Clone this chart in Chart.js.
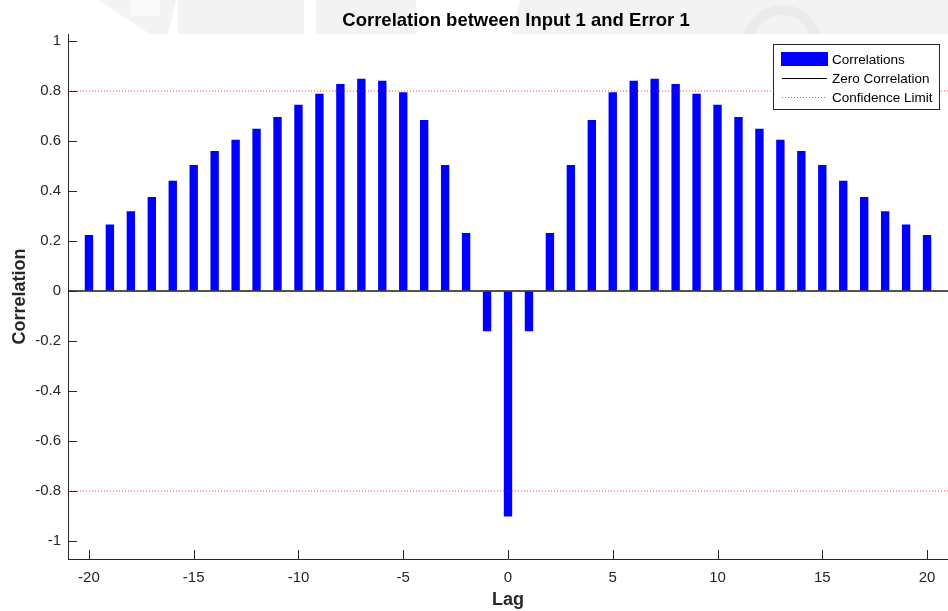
<!DOCTYPE html>
<html>
<head>
<meta charset="utf-8">
<title>Correlation between Input 1 and Error 1</title>
<script src="https://cdn.jsdelivr.net/npm/chart.js@4/dist/chart.umd.min.js"></script>
<style>
  html, body { margin: 0; padding: 0; background: #ffffff; }
  #wrap { width: 948px; height: 611px; }
  canvas { display: block; }
</style>
</head>
<body>
<div id="wrap"><canvas id="c" width="948" height="611"></canvas></div>
<script>
// Lags and cross-correlation values between input 1 and error 1
const lags = [-20, -19, -18, -17, -16, -15, -14, -13, -12, -11, -10, -9, -8, -7, -6, -5, -4, -3, -2, -1,
              0, 1, 2, 3, 4, 5, 6, 7, 8, 9, 10, 11, 12, 13, 14, 15, 16, 17, 18, 19, 20];
const correlations = [0.224, 0.266, 0.319, 0.376, 0.441, 0.504, 0.560, 0.605, 0.649, 0.696,
                      0.745, 0.789, 0.828, 0.849, 0.841, 0.795, 0.684, 0.504, 0.232, -0.161,
                      -0.902,
                      -0.161, 0.232, 0.504, 0.684, 0.795, 0.841, 0.849, 0.828, 0.789, 0.745,
                      0.696, 0.649, 0.605, 0.560, 0.504, 0.441, 0.376, 0.319, 0.266, 0.224];
const confidenceLimit = 0.8;
const lagRange = [-21, 21];
const corrRange = [-1.072, 1.028];
const xTickValues = [-20, -15, -10, -5, 0, 5, 10, 15, 20];
const yTickValues = [-1, -0.8, -0.6, -0.4, -0.2, 0, 0.2, 0.4, 0.6, 0.8, 1];

const titleText = 'Correlation between Input 1 and Error 1';
const legendLabels = ['Correlations', 'Zero Correlation', 'Confidence Limit'];

const FONT = '"Liberation Sans", Arial, Helvetica, sans-serif';
const AXIS_COLOR = '#262626';
const BAR_COLOR = '#0000ff';
const LIMIT_COLOR = 'rgba(255, 0, 0, 0.75)';

const barPoints = lags.map((l, i) => ({ x: l, y: correlations[i] }));
const zeroLine = lagRange.map(x => ({ x: x, y: 0 }));
const upperLimit = lagRange.map(x => ({ x: x, y: confidenceLimit }));
const lowerLimit = lagRange.map(x => ({ x: x, y: -confidenceLimit }));

// Faint backdrop shapes along the top strip, white figure elsewhere
const backdrop = {
  id: 'backdrop',
  beforeDraw(chart) {
    const ctx = chart.ctx;
    ctx.save();
    ctx.fillStyle = '#ffffff';
    ctx.fillRect(0, 0, chart.width, chart.height);
    ctx.beginPath();
    ctx.rect(0, 0, chart.width, 34);
    ctx.clip();
    ctx.fillStyle = '#f3f3f3';
    ctx.beginPath();
    ctx.moveTo(98, 0); ctx.lineTo(176, 0); ctx.lineTo(168, 34); ctx.lineTo(150, 34); ctx.closePath();
    ctx.fill();
    ctx.fillRect(178, 0, 126, 34);
    ctx.fillRect(316, 0, 100, 34);
    ctx.beginPath();
    ctx.moveTo(520, 0); ctx.lineTo(948, 0); ctx.lineTo(948, 34); ctx.lineTo(512, 34); ctx.closePath();
    ctx.fill();
    ctx.fillStyle = '#fafafa';
    ctx.fillRect(130, 0, 30, 16);
    ctx.beginPath();
    ctx.arc(782, 44, 34, Math.PI, 2 * Math.PI);
    ctx.lineWidth = 10;
    ctx.strokeStyle = '#ebebeb';
    ctx.stroke();
    ctx.restore();
  }
};

// Inward tick marks, title and the boxed legend
const decorations = {
  id: 'decorations',
  afterDraw(chart) {
    const ctx = chart.ctx;
    const xs = chart.scales.x, ys = chart.scales.y;
    const area = chart.chartArea;
    ctx.save();
    ctx.strokeStyle = AXIS_COLOR;
    ctx.lineWidth = 1;
    ctx.beginPath();
    yTickValues.forEach(v => {
      const py = Math.round(ys.getPixelForValue(v)) + 0.5;
      ctx.moveTo(area.left, py); ctx.lineTo(area.left + 9, py);
    });
    xTickValues.forEach(v => {
      const px = Math.round(xs.getPixelForValue(v)) + 0.5;
      ctx.moveTo(px, area.bottom); ctx.lineTo(px, area.bottom - 9);
    });
    ctx.stroke();

    // title
    ctx.fillStyle = '#000000';
    ctx.font = 'bold 18.5px ' + FONT;
    ctx.textAlign = 'center';
    ctx.textBaseline = 'middle';
    ctx.fillText(titleText, 516, 21);

    // legend
    const lx = 773.5, ly = 44.5, lw = 166, lh = 65;
    ctx.fillStyle = '#ffffff';
    ctx.fillRect(lx, ly, lw, lh);
    ctx.strokeStyle = AXIS_COLOR;
    ctx.lineWidth = 1;
    ctx.strokeRect(lx, ly, lw, lh);
    ctx.fillStyle = BAR_COLOR;
    ctx.fillRect(781, 52, 47, 14);
    ctx.strokeStyle = '#000000';
    ctx.beginPath();
    ctx.moveTo(782, 78.5); ctx.lineTo(827, 78.5);
    ctx.stroke();
    ctx.strokeStyle = LIMIT_COLOR;
    ctx.setLineDash([1, 2]);
    ctx.beginPath();
    ctx.moveTo(782, 97.5); ctx.lineTo(827, 97.5);
    ctx.stroke();
    ctx.setLineDash([]);
    ctx.fillStyle = '#000000';
    ctx.font = '13.5px ' + FONT;
    ctx.textAlign = 'left';
    ctx.textBaseline = 'middle';
    ctx.fillText(legendLabels[0], 832, 60);
    ctx.fillText(legendLabels[1], 832, 79);
    ctx.fillText(legendLabels[2], 832, 98);
    ctx.restore();
  }
};

// Axis grid: only the axis line, no gridlines or outer tick marks
const axisGrid = { display: true, drawOnChartArea: false, drawTicks: false, color: 'rgba(0,0,0,0)' };

new Chart(document.getElementById('c'), {
  type: 'bar',
  data: {
    datasets: [
      {
        type: 'bar',
        label: legendLabels[0],
        data: barPoints,
        backgroundColor: BAR_COLOR,
        borderWidth: 0,
        categoryPercentage: 1.0,
        barPercentage: 0.4,
        order: 3
      },
      {
        type: 'line',
        label: legendLabels[1],
        data: zeroLine,
        borderColor: '#1a1a1a',
        borderWidth: 1.5,
        pointRadius: 0,
        order: 1
      },
      {
        type: 'line',
        label: legendLabels[2],
        data: upperLimit,
        borderColor: LIMIT_COLOR,
        borderWidth: 1,
        borderDash: [1, 2],
        pointRadius: 0,
        order: 2
      },
      {
        type: 'line',
        label: legendLabels[2],
        data: lowerLimit,
        borderColor: LIMIT_COLOR,
        borderWidth: 1,
        borderDash: [1, 2],
        pointRadius: 0,
        order: 2
      }
    ]
  },
  options: {
    responsive: false,
    animation: false,
    devicePixelRatio: 1,
    layout: { padding: { top: 34, right: 0, bottom: 0, left: 0 } },
    plugins: {
      legend: { display: false },
      title: { display: false },
      tooltip: { enabled: false }
    },
    scales: {
      x: {
        type: 'linear',
        min: lagRange[0],
        max: lagRange[1],
        offset: false,
        grid: axisGrid,
        border: { display: true, color: AXIS_COLOR, width: 1 },
        afterBuildTicks(scale) { scale.ticks = xTickValues.map(v => ({ value: v })); },
        afterFit(scale) { scale.height = 52; },
        ticks: {
          color: AXIS_COLOR,
          font: { family: FONT, size: 15 },
          padding: 10,
          maxRotation: 0,
          autoSkip: false,
          callback: v => String(v)
        },
        title: {
          display: true,
          text: 'Lag',
          color: AXIS_COLOR,
          font: { family: FONT, size: 18, weight: 'bold' },
          padding: { top: 0, bottom: 0 }
        }
      },
      y: {
        type: 'linear',
        min: corrRange[0],
        max: corrRange[1],
        grid: axisGrid,
        border: { display: true, color: AXIS_COLOR, width: 1 },
        afterBuildTicks(scale) { scale.ticks = yTickValues.map(v => ({ value: v })); },
        afterFit(scale) { scale.width = 68; },
        ticks: {
          color: AXIS_COLOR,
          font: { family: FONT, size: 15 },
          padding: 7,
          autoSkip: false,
          callback: v => String(Math.round(v * 10) / 10)
        },
        title: {
          display: true,
          text: 'Correlation',
          color: AXIS_COLOR,
          font: { family: FONT, size: 18, weight: 'bold' },
          padding: { top: 9, bottom: 0 }
        }
      }
    }
  },
  plugins: [backdrop, decorations]
});
</script>
</body>
</html>
